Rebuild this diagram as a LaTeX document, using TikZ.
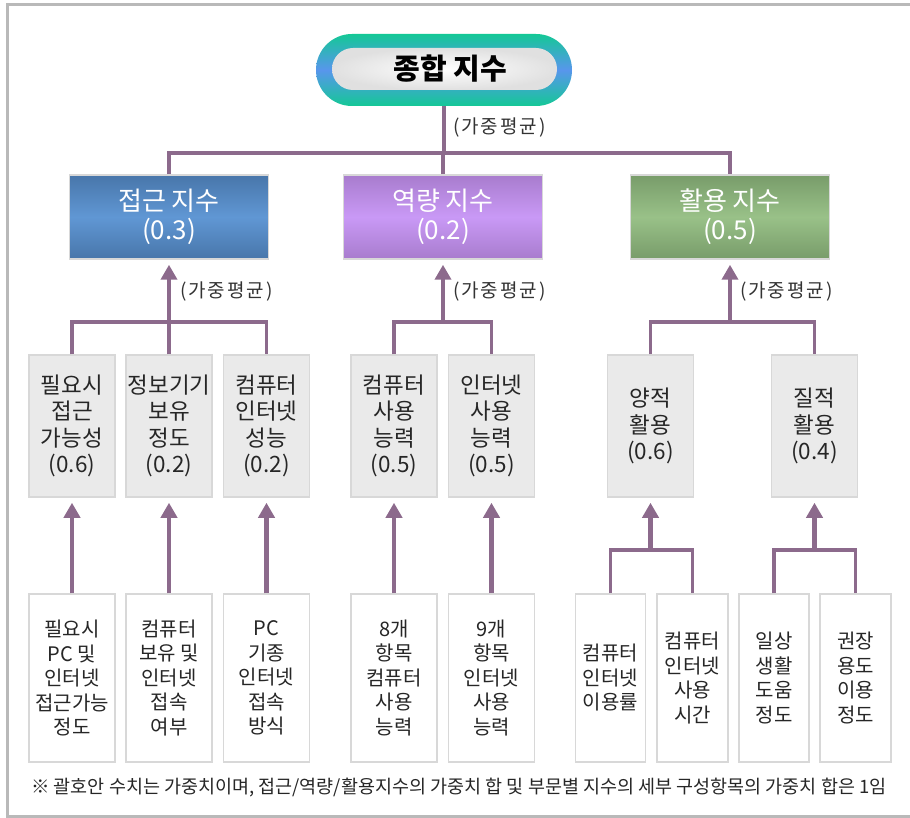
\documentclass[tikz,border=0pt]{standalone}
\usepackage{fontspec}
\setmainfont{Noto Sans CJK KR}
\usetikzlibrary{arrows.meta,positioning}
\definecolor{ln}{RGB}{140,106,140}
\definecolor{bx}{RGB}{216,216,216}
\definecolor{gf}{RGB}{234,234,234}
\definecolor{fr}{RGB}{185,185,185}
\definecolor{pA}{RGB}{20,200,150}
\definecolor{pB}{RGB}{88,150,236}
\definecolor{acA}{RGB}{72,118,170}
\definecolor{acB}{RGB}{96,151,212}
\definecolor{caA}{RGB}{168,124,205}
\definecolor{caB}{RGB}{201,153,246}
\definecolor{usA}{RGB}{120,156,106}
\definecolor{usB}{RGB}{153,193,136}

\begin{document}
\begin{tikzpicture}[x=1pt,y=-1pt,
  conn/.style={draw=ln,line width=3.3pt},
  arr/.style={draw=ln,line width=4.4pt,-{Triangle[width=16pt,length=15pt]},shorten >=5pt},
  po/.style={rounded corners=36pt,minimum width=256pt,minimum height=72pt,top color=pA,bottom color=pA,middle color=pB},
  pi/.style={rounded corners=21pt,minimum width=225pt,minimum height=42pt,inner color=white,outer color=black!12,font=\bfseries\fontsize{29}{32}\selectfont},
  l2/.style={draw=bx,line width=1.5pt,minimum width=199pt,minimum height=84pt,inner sep=0pt,align=center,text=white,font=\fontsize{26}{29}\selectfont},
  l3/.style={draw=bx,line width=1.5pt,fill=gf,minimum width=86pt,minimum height=142pt,inner sep=0pt,align=center,text=black!85,font=\fontsize{22.5}{26.5}\selectfont},
  l4/.style={draw=bx,line width=1.5pt,fill=white,minimum width=86pt,minimum height=168pt,inner sep=0pt,align=center,text=black!85,font=\fontsize{20}{24.5}\selectfont},
  wl/.style={anchor=west,inner sep=0pt,text=black!80,font=\fontsize{19}{21}\selectfont\addfontfeature{LetterSpace=10}}]
\useasboundingbox (0,0) rectangle (910,818);
\draw[fr,line width=3pt] (912,5) -- (7,5) -- (7,816) -- (912,816);
% top
\node[po] (ttl) at (444,70) {};
\node[pi] (ttlin) at (444.5,69) {\hspace*{12pt}종합 지수};
% sub indices
\node[l2,top color=acA,bottom color=acA,middle color=acB] (a) at (169,217) {접근 지수\\(0.3)};
\node[l2,top color=caA,bottom color=caA,middle color=caB] (b) at (443,217) {역량 지수\\(0.2)};
\node[l2,top color=usA,bottom color=usA,middle color=usB] (c) at (730,217) {활용 지수\\(0.5)};
\coordinate (j0) at (443,153);
\draw[conn] (ttl.south) -- (ttl.south|-j0); \draw[conn] (a.north) |- (j0) -| (c.north); \draw[conn] (b.north) -- (b.north|-j0);
\node[wl] (w0) at (453,128) {(가중평균)};
% components
\node[l3] (a1) at (72,426) {필요시\\접근\\가능성\\(0.6)};
\node[l3] (a2) at (169,426) {정보기기\\보유\\정도\\(0.2)};
\node[l3] (a3) at (266.5,426) {컴퓨터\\인터넷\\성능\\(0.2)};
\node[l3] (b1) at (394,426) {컴퓨터\\사용\\능력\\(0.5)};
\node[l3] (b2) at (491.5,426) {인터넷\\사용\\능력\\(0.5)};
\node[l3] (c1) at (650.5,426) {양적\\활용\\(0.6)};
\node[l3] (c2) at (814.5,426) {질적\\활용\\(0.4)};
\coordinate (ja) at (169,322); \coordinate (jb) at (443,322); \coordinate (jc) at (730,322);
\draw[conn] (a1.north) |- (ja) -| (a3.north); \draw[conn] (a2.north) -- (a2.north|-ja); \draw[arr] (ja) -- (a.south);
\draw[conn] (b1.north) |- (jb) -| (b2.north); \draw[arr] (jb) -- (b.south);
\draw[conn] (c1.north) |- (jc) -| (c2.north); \draw[arr] (jc) -- (c.south);
\node[wl] (wa) at (180,292) {(가중평균)};
\node[wl] (wb) at (453,292) {(가중평균)};
\node[wl] (wc) at (740,292) {(가중평균)};
% items
\node[l4] (d1) at (72,678) {필요시\\PC 및\\인터넷\\접근가능\\정도};
\node[l4] (d2) at (169,678) {컴퓨터\\보유 및\\인터넷\\접속\\여부};
\node[l4] (d3) at (266.5,678) {PC\\기종\\인터넷\\접속\\방식};
\node[l4] (d4) at (394,678) {8개\\항목\\컴퓨터\\사용\\능력};
\node[l4] (d5) at (491.5,678) {9개\\항목\\인터넷\\사용\\능력};
\node[l4,minimum width=70pt] (d6) at (610.5,678) {컴퓨터\\인터넷\\이용률};
\node[l4,minimum width=71pt] (d7) at (692.5,678) {컴퓨터\\인터넷\\사용\\시간};
\node[l4,minimum width=70pt] (d8) at (774,678) {일상\\생활\\도움\\정도};
\node[l4,minimum width=71pt] (d9) at (855.5,678) {권장\\용도\\이용\\정도};
\draw[arr] (d1.north) -- (a1.south); \draw[arr] (d2.north) -- (a2.south); \draw[arr] (d3.north) -- (a3.south);
\draw[arr] (d4.north) -- (b1.south); \draw[arr] (d5.north) -- (b2.south);
\coordinate (jd) at (650.5,550); \coordinate (je) at (814.5,550);
\draw[conn] (d6.north) |- (jd) -| (d7.north); \draw[arr] (jd) -- (c1.south);
\draw[conn] (d8.north) |- (je) -| (d9.north); \draw[arr] (je) -- (c2.south);
\node[anchor=west,inner sep=0pt,text=black!85,font=\fontsize{18.5}{21}\selectfont] (note) at (31,788) {※ 괄호안 수치는 가중치이며, 접근/역량/활용지수의 가중치 합 및 부문별 지수의 세부 구성항목의 가중치 합은 1임};
\end{tikzpicture}
\end{document}
